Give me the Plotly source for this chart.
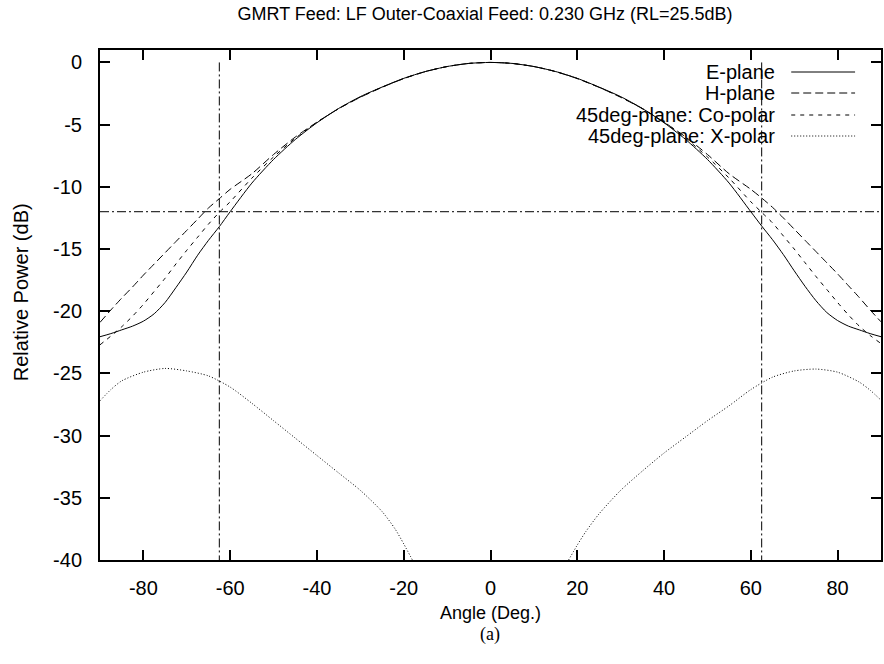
import plotly.graph_objects as go

# ---------------- data ----------------
angles = [-90, -87.5, -85, -82.5, -80, -77.5, -75, -72.5, -70, -67.5, -65, -62.5, -60, -55, -50, -45, -40, -35, -30, -25, -20, -15, -10, -5,
          0, 5, 10, 15, 20, 25, 30, 35, 40, 45, 50, 55, 60, 62.5, 65, 67.5, 70, 72.5, 75, 77.5, 80, 82.5, 85, 87.5, 90]

e_plane = [-22.05, -21.8, -21.5, -21.2, -20.8, -20.2, -19.3, -18.1, -16.85, -15.5, -14.3, -13.2, -12.0, -9.7, -7.8, -6.2, -4.85, -3.7, -2.75, -1.98, -1.28, -0.73, -0.33, -0.08,
           0.0, -0.08, -0.33, -0.73, -1.28, -1.98, -2.75, -3.7, -4.85, -6.2, -7.8, -9.7, -12.0, -13.15, -14.25, -15.45, -16.75, -18.0, -19.15, -20.1, -20.75, -21.2, -21.5, -21.8, -22.05]

h_plane = [-20.9, -19.9, -18.95, -18.05, -17.1, -16.2, -15.3, -14.4, -13.5, -12.6, -11.7, -10.95, -10.2, -8.95, -7.4, -6.0, -4.8, -3.72, -2.8, -2.0, -1.3, -0.74, -0.33, -0.08,
           0.0, -0.08, -0.33, -0.74, -1.3, -2.0, -2.8, -3.72, -4.8, -6.0, -7.4, -8.95, -10.2, -10.9, -11.65, -12.5, -13.4, -14.3, -15.2, -16.1, -17.0, -17.95, -18.9, -19.9, -20.85]

co_polar = [-22.7, -22.0, -21.25, -20.4, -19.45, -18.4, -17.35, -16.2, -15.1, -14.05, -13.0, -12.05, -11.2, -9.3, -7.6, -6.1, -4.82, -3.71, -2.78, -1.99, -1.29, -0.73, -0.33, -0.08,
            0.0, -0.08, -0.33, -0.73, -1.29, -1.99, -2.78, -3.71, -4.82, -6.1, -7.6, -9.3, -11.2, -12.05, -12.9, -13.95, -15.0, -16.1, -17.2, -18.25, -19.3, -20.3, -21.2, -21.95, -22.6]

xpol_angles = [-90, -87.5, -85, -80, -75, -70, -65, -60, -55, -50, -45, -40, -35, -30, -25, -22, -20, -18,
               0,
               18, 20, 22, 25, 30, 35, 40, 45, 50, 55, 60, 65, 70, 75, 80, 85, 87.5, 90]
x_polar = [-27.2, -26.3, -25.6, -24.9, -24.6, -24.8, -25.2, -26.1, -27.4, -28.8, -30.2, -31.6, -33.0, -34.4, -36.1, -37.5, -38.7, -40.0,
           None,
           -40.0, -38.8, -37.7, -36.3, -34.4, -32.85, -31.4, -30.1, -28.8, -27.6, -26.3, -25.3, -24.8, -24.65, -24.9, -25.7, -26.35, -27.15]

beam_edge = [-62.5, 62.5]      # deg, vertical markers
level_12db = -12.0            # dB, horizontal marker

series_names = ["E-plane", "H-plane", "45deg-plane: Co-polar", "45deg-plane: X-polar"]
series_dash = ["solid", "8px,4px", "4px,5px", "1px,2px"]

x_ticks = [-80, -60, -40, -20, 0, 20, 40, 60, 80]
y_ticks = [0, -5, -10, -15, -20, -25, -30, -35, -40]

# ---------------- figure ----------------
W, H = 884, 664
L, R, T, B = 100, 1, 50, 104
pw, ph = W - L - R, H - T - B

def px2paper_x(px):
    return (px - L) / pw

def px2paper_y(py):
    return (H - B - py) / ph

fig = go.Figure()
font_main = "Liberation Sans, Arial, Helvetica, sans-serif"

dashdot = "9px,3px,2px,3px"
for xb in beam_edge:
    fig.add_trace(go.Scatter(x=[xb, xb], y=[0, -40], mode="lines",
                             line=dict(color="black", width=1, dash=dashdot),
                             showlegend=False, hoverinfo="skip"))
fig.add_trace(go.Scatter(x=[-90, 90], y=[level_12db, level_12db], mode="lines",
                         line=dict(color="black", width=1, dash=dashdot),
                         showlegend=False, hoverinfo="skip"))

data_sets = [(angles, e_plane), (angles, h_plane), (angles, co_polar), (xpol_angles, x_polar)]
for (xs, ys), name, dash in zip(data_sets, series_names, series_dash):
    fig.add_trace(go.Scatter(x=xs, y=ys, mode="lines", name=name,
                             line=dict(color="black", width=1, dash=dash, shape="spline", smoothing=0.7),
                             connectgaps=False, showlegend=False))

# gnuplot-style legend: text right-aligned, sample on the right
leg_y = [72, 93, 115, 136]
annotations = []
shapes = []
for name, dash, yy in zip(series_names, series_dash, leg_y):
    annotations.append(dict(x=px2paper_x(779), y=px2paper_y(yy), xref="paper", yref="paper",
                            text=name, showarrow=False, xanchor="right", yanchor="middle",
                            font=dict(family=font_main, size=20, color="black")))
    shapes.append(dict(type="line", xref="paper", yref="paper",
                       x0=px2paper_x(793), x1=px2paper_x(857), y0=px2paper_y(yy), y1=px2paper_y(yy),
                       line=dict(color="black", width=1, dash=dash)))

# axis titles and caption
annotations.append(dict(x=px2paper_x(491), y=px2paper_y(613), xref="paper", yref="paper",
                        text="Angle (Deg.)", showarrow=False, xanchor="center", yanchor="middle",
                        font=dict(family=font_main, size=18, color="black")))
annotations.append(dict(x=px2paper_x(491), y=px2paper_y(634), xref="paper", yref="paper",
                        text="(a)", showarrow=False, xanchor="center", yanchor="middle",
                        font=dict(family="Liberation Serif, Times New Roman, serif", size=18, color="black")))
annotations.append(dict(x=px2paper_x(21), y=px2paper_y(292), xref="paper", yref="paper",
                        text="Relative Power (dB)", showarrow=False, xanchor="center", yanchor="middle",
                        textangle=-90,
                        font=dict(family=font_main, size=20, color="black")))

fig.update_layout(
    width=W, height=H,
    margin=dict(l=L, r=R, t=T, b=B),
    paper_bgcolor="white", plot_bgcolor="white",
    title=dict(text="GMRT Feed: LF Outer-Coaxial Feed: 0.230 GHz (RL=25.5dB)",
               x=485 / W, xref="container", xanchor="center",
               y=1 - 14 / H, yref="container", yanchor="middle",
               font=dict(family=font_main, size=18, color="black")),
    annotations=annotations,
    shapes=shapes,
    showlegend=False,
)

fig.update_xaxes(range=[-90, 90], tickvals=x_ticks, ticktext=[str(v) for v in x_ticks],
                 ticks="inside", ticklen=10, tickwidth=1.5, tickcolor="black",
                 showline=True, linecolor="black", linewidth=2, mirror="ticks",
                 showgrid=False, zeroline=False, ticklabelstandoff=9,
                 tickfont=dict(family=font_main, size=20, color="black"))
fig.update_yaxes(range=[-40, 1], tickvals=y_ticks, ticktext=[str(v) for v in y_ticks],
                 ticks="inside", ticklen=10, tickwidth=1.5, tickcolor="black",
                 showline=True, linecolor="black", linewidth=2, mirror="ticks",
                 showgrid=False, zeroline=False, ticklabelstandoff=12,
                 tickfont=dict(family=font_main, size=20, color="black"))

fig.write_html("out.html")
